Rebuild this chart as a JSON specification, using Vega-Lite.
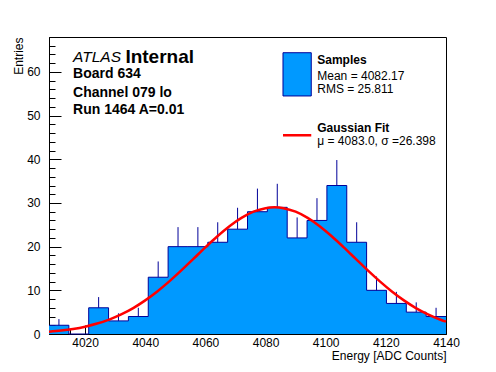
{
  "$schema": "https://vega.github.io/schema/vega-lite/v6.json",
  "autosize": "none",
  "width": 397,
  "height": 297,
  "padding": {"left": 49, "top": 37, "right": 50, "bottom": 38},
  "background": "white",
  "config": {
    "font": "Liberation Sans",
    "view": {"stroke": "black", "strokeWidth": 1},
    "axis": {"grid": false, "domainColor": "black", "tickColor": "black", "labelColor": "black", "titleColor": "black", "labelFont": "Liberation Sans", "titleFont": "Liberation Sans", "labelFontSize": 12, "titleFontSize": 12, "titleFontWeight": "normal"}
  },
  "resolve": {"axis": {"x": "independent", "y": "independent"}},
  "datasets": {
    "bins": [
      {"c": 4011.3, "n": 2, "hi": 3.41},
      {"c": 4017.9, "n": 0, "hi": 0},
      {"c": 4024.5, "n": 6, "hi": 8.45},
      {"c": 4031.1, "n": 3, "hi": 4.73},
      {"c": 4037.7, "n": 4, "hi": 6.0},
      {"c": 4044.3, "n": 13, "hi": 16.61},
      {"c": 4050.9, "n": 20, "hi": 24.47},
      {"c": 4057.5, "n": 20, "hi": 24.47},
      {"c": 4064.1, "n": 21, "hi": 25.58},
      {"c": 4070.7, "n": 24, "hi": 28.9},
      {"c": 4077.3, "n": 28, "hi": 33.29},
      {"c": 4083.9, "n": 29, "hi": 34.39},
      {"c": 4090.5, "n": 22, "hi": 26.69},
      {"c": 4097.1, "n": 26, "hi": 31.1},
      {"c": 4103.7, "n": 34, "hi": 39.83},
      {"c": 4110.3, "n": 21, "hi": 25.58},
      {"c": 4116.9, "n": 10, "hi": 13.16},
      {"c": 4123.5, "n": 7, "hi": 9.65},
      {"c": 4130.1, "n": 5, "hi": 7.24},
      {"c": 4136.7, "n": 4, "hi": 6.0}
    ],
    "outline": [
      {"x": 4008.0, "n": 2}, {"x": 4014.6, "n": 0}, {"x": 4021.2, "n": 6}, {"x": 4027.8, "n": 3},
      {"x": 4034.4, "n": 4}, {"x": 4041.0, "n": 13}, {"x": 4047.6, "n": 20}, {"x": 4054.2, "n": 20},
      {"x": 4060.8, "n": 21}, {"x": 4067.4, "n": 24}, {"x": 4074.0, "n": 28}, {"x": 4080.6, "n": 29},
      {"x": 4087.2, "n": 22}, {"x": 4093.8, "n": 26}, {"x": 4100.4, "n": 34}, {"x": 4107.0, "n": 21},
      {"x": 4113.6, "n": 10}, {"x": 4120.2, "n": 7}, {"x": 4126.8, "n": 5}, {"x": 4133.4, "n": 4},
      {"x": 4140.0, "n": 4}
    ],
    "fit": [
      {"x": 4008, "y": 0.51}, {"x": 4012, "y": 0.78}, {"x": 4016, "y": 1.16}, {"x": 4020, "y": 1.68},
      {"x": 4024, "y": 2.39}, {"x": 4028, "y": 3.31}, {"x": 4032, "y": 4.49}, {"x": 4036, "y": 5.94},
      {"x": 4040, "y": 7.70}, {"x": 4044, "y": 9.74}, {"x": 4048, "y": 12.04}, {"x": 4052, "y": 14.55},
      {"x": 4056, "y": 17.19}, {"x": 4060, "y": 19.84}, {"x": 4064, "y": 22.38}, {"x": 4068, "y": 24.68},
      {"x": 4072, "y": 26.59}, {"x": 4076, "y": 28.00}, {"x": 4080, "y": 28.81}, {"x": 4083, "y": 29.00},
      {"x": 4086, "y": 28.81}, {"x": 4090, "y": 28.00}, {"x": 4094, "y": 26.59}, {"x": 4098, "y": 24.68},
      {"x": 4102, "y": 22.38}, {"x": 4106, "y": 19.84}, {"x": 4110, "y": 17.19}, {"x": 4114, "y": 14.55},
      {"x": 4118, "y": 12.04}, {"x": 4122, "y": 9.74}, {"x": 4126, "y": 7.70}, {"x": 4130, "y": 5.94},
      {"x": 4134, "y": 4.49}, {"x": 4138, "y": 3.31}, {"x": 4140, "y": 2.82}
    ]
  },
  "layer": [
    {
      "data": {"name": "outline"},
      "mark": {"type": "area", "interpolate": "step-after", "fill": "#0099ff"},
      "encoding": {
        "x": {"field": "x", "type": "quantitative",
          "scale": {"domain": [4008, 4140], "nice": false, "zero": false},
          "axis": {
            "values": [4020, 4040, 4060, 4080, 4100, 4120, 4140],
            "format": "d",
            "tickSize": -9,
            "labelPadding": 12,
            "labelFlush": false,
            "labelOverlap": false,
            "title": "Energy [ADC Counts]",
            "titleAlign": "right",
            "titleBaseline": "middle",
            "titleX": 397,
            "titleY": 21
          }
        },
        "y": {"field": "n", "type": "quantitative",
          "scale": {"domain": [0, 68], "nice": false},
          "axis": {
            "values": [0, 10, 20, 30, 40, 50, 60],
            "tickSize": -12,
            "labelPadding": 21,
            "labelFlush": false,
            "labelOverlap": false,
            "title": "Entries",
            "titleAlign": "right",
            "titleBaseline": "middle",
            "titleAngle": -90,
            "titleX": -31,
            "titleY": 0
          }
        },
        "y2": {"datum": 0}
      }
    },
    {
      "data": {"name": "outline"},
      "mark": {"type": "line", "interpolate": "step-after", "color": "#000099", "strokeWidth": 1},
      "encoding": {
        "x": {"field": "x", "type": "quantitative",
          "axis": {
            "orient": "top", "offset": -297,
            "values": [4010,4015,4025,4030,4035,4045,4050,4055,4065,4070,4075,4085,4090,4095,4105,4110,4115,4125,4130,4135],
            "tickSize": 4.5, "labels": false, "domain": false, "title": null
          }
        },
        "y": {"field": "n", "type": "quantitative",
          "axis": {
            "orient": "right", "offset": -397,
            "values": [2,4,6,8,12,14,16,18,22,24,26,28,32,34,36,38,42,44,46,48,52,54,56,58,62,64,66,68],
            "tickSize": 6, "labels": false, "domain": false, "title": null
          }
        }
      }
    },
    {
      "data": {"name": "bins"},
      "mark": {"type": "rule", "color": "#000099", "strokeWidth": 1},
      "encoding": {
        "x": {"field": "c", "type": "quantitative", "axis": null},
        "y": {"field": "n", "type": "quantitative", "axis": null},
        "y2": {"field": "hi"}
      }
    },
    {
      "data": {"name": "fit"},
      "mark": {"type": "line", "color": "#ff0000", "strokeWidth": 2.5, "interpolate": "monotone"},
      "encoding": {
        "x": {"field": "x", "type": "quantitative", "axis": null},
        "y": {"field": "y", "type": "quantitative", "axis": null}
      }
    },
    {
      "data": {"values": [{}]},
      "mark": {"type": "rect", "fill": "#0099ff", "stroke": "#000099", "strokeWidth": 1},
      "encoding": {"x": {"datum": 4085.8, "axis": null}, "x2": {"datum": 4095.2}, "y": {"datum": 64.4, "axis": null}, "y2": {"datum": 54.5}}
    },
    {
      "data": {"values": [{}]},
      "mark": {"type": "rule", "color": "#ff0000", "strokeWidth": 2.5},
      "encoding": {"x": {"datum": 4085.8, "axis": null}, "x2": {"datum": 4095.2}, "y": {"datum": 45.5, "axis": null}}
    },
    {
      "data": {"values": [{}]},
      "mark": {"type": "text", "text": "ATLAS", "fontStyle": "italic", "fontSize": 15.5, "align": "left", "baseline": "middle", "color": "black"},
      "encoding": {"x": {"datum": 4016.0, "axis": null}, "y": {"datum": 63.5, "axis": null}}
    },
    {
      "data": {"values": [{}]},
      "mark": {"type": "text", "text": "Internal", "fontWeight": "bold", "fontSize": 19, "align": "left", "baseline": "middle", "color": "black"},
      "encoding": {"x": {"datum": 4033.4, "axis": null}, "y": {"datum": 63.5, "axis": null}}
    },
    {
      "data": {"values": [{}]},
      "mark": {"type": "text", "text": "Board 634", "fontWeight": "bold", "fontSize": 14, "align": "left", "baseline": "middle", "color": "black"},
      "encoding": {"x": {"datum": 4016.0, "axis": null}, "y": {"datum": 59.45, "axis": null}}
    },
    {
      "data": {"values": [{}]},
      "mark": {"type": "text", "text": "Channel 079 lo", "fontWeight": "bold", "fontSize": 14, "align": "left", "baseline": "middle", "color": "black"},
      "encoding": {"x": {"datum": 4016.0, "axis": null}, "y": {"datum": 55.26, "axis": null}}
    },
    {
      "data": {"values": [{}]},
      "mark": {"type": "text", "text": "Run 1464 A=0.01", "fontWeight": "bold", "fontSize": 14, "align": "left", "baseline": "middle", "color": "black"},
      "encoding": {"x": {"datum": 4016.0, "axis": null}, "y": {"datum": 51.2, "axis": null}}
    },
    {
      "data": {"values": [{}]},
      "mark": {"type": "text", "text": "Samples", "fontWeight": "bold", "fontSize": 12, "align": "left", "baseline": "middle", "color": "black"},
      "encoding": {"x": {"datum": 4097.2, "axis": null}, "y": {"datum": 62.7, "axis": null}}
    },
    {
      "data": {"values": [{}]},
      "mark": {"type": "text", "text": "Mean = 4082.17", "fontSize": 12, "align": "left", "baseline": "middle", "color": "black"},
      "encoding": {"x": {"datum": 4097.2, "axis": null}, "y": {"datum": 59.1, "axis": null}}
    },
    {
      "data": {"values": [{}]},
      "mark": {"type": "text", "text": "RMS = 25.811", "fontSize": 12, "align": "left", "baseline": "middle", "color": "black"},
      "encoding": {"x": {"datum": 4097.2, "axis": null}, "y": {"datum": 56.0, "axis": null}}
    },
    {
      "data": {"values": [{}]},
      "mark": {"type": "text", "text": "Gaussian Fit", "fontWeight": "bold", "fontSize": 12, "align": "left", "baseline": "middle", "color": "black"},
      "encoding": {"x": {"datum": 4097.2, "axis": null}, "y": {"datum": 47.1, "axis": null}}
    },
    {
      "data": {"values": [{}]},
      "mark": {"type": "text", "text": "μ = 4083.0, σ =26.398", "fontSize": 12, "align": "left", "baseline": "middle", "color": "black"},
      "encoding": {"x": {"datum": 4097.2, "axis": null}, "y": {"datum": 44.2, "axis": null}}
    }
  ]
}
